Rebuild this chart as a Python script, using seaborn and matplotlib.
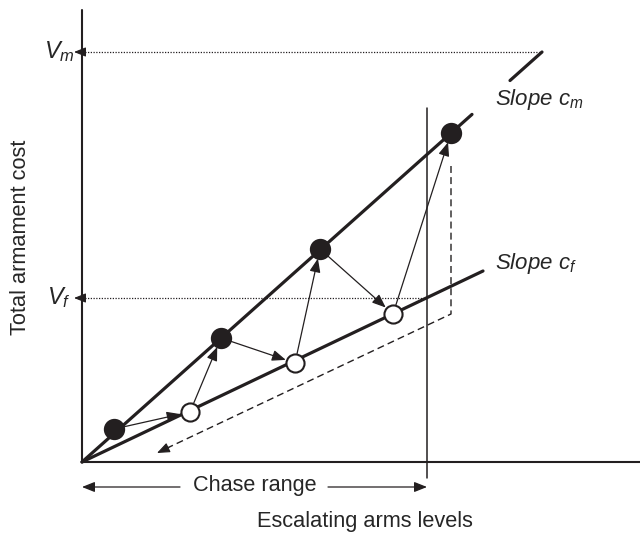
import numpy as np
import matplotlib
matplotlib.use("Agg")
import matplotlib.pyplot as plt
import seaborn as sns

# Schematic values (x = arms level, y = total cost), origin at the axes corner
filled_x = [32, 139, 238, 369]
filled_y = [33, 124, 213, 329]
open_x = [108, 213, 311]
open_y = [50, 99, 148]

slope_m = 410 / 460
slope_f = 191 / 401
x_end_m = 460
x_end_f = 401
gap_m = [390, 428]          # gap in the c_m line
V_m = 410
V_f = 164
chase_limit = 345
dash_x = 369
dash_top = 296
dash_tip = 75
x_max = 558
y_max = 452

sns.set_style("white")
plt.rcParams["font.family"] = ["Liberation Sans", "DejaVu Sans"]
plt.rcParams["mathtext.fontset"] = "custom"
plt.rcParams["mathtext.rm"] = "Liberation Sans"
plt.rcParams["mathtext.it"] = "Liberation Sans:italic"

ink = "#231f20"
head = "-|>,head_length=0.55,head_width=0.22"

fig = plt.figure(figsize=(6.4, 5.33), dpi=100)
ax = fig.add_axes([0, 0, 1, 1])
ax.set_xlim(-82, 558)
ax.set_ylim(-71, 462)
ax.axis("off")

# axes
ax.plot([0, 0], [0, y_max], color=ink, lw=1.5)
ax.plot([0, x_max], [0, 0], color=ink, lw=1.5)

# reference levels
ax.plot([0, x_end_m], [V_m, V_m], color=ink, lw=0.9, ls=(0, (1, 1.2)))
ax.plot([0, chase_limit], [V_f, V_f], color=ink, lw=0.9, ls=(0, (1, 1.2)))
for v in [V_m, V_f]:
    ax.annotate("", xy=(-8, v), xytext=(0, v),
                arrowprops=dict(arrowstyle=head, color=ink, lw=0.8,
                                shrinkA=0, shrinkB=0, mutation_scale=13))
ax.text(-23, V_m, "$V_m$", fontsize=17, ha="center", va="center")
ax.text(-23, V_f, "$V_f$", fontsize=17, ha="center", va="center")

# slope lines
xm = np.array([0, gap_m[0], np.nan, gap_m[1], x_end_m])
ax.plot(xm, slope_m * xm, color=ink, lw=2.3)
sns.lineplot(x=[0, x_end_f], y=[0, slope_f * x_end_f], color=ink, lw=2.3, ax=ax)
ax.text(413, 362, "$Slope\\ c_m$", fontsize=16, ha="left", va="center")
ax.text(413, 199, "$Slope\\ c_f$", fontsize=16, ha="left", va="center")

# chase limit line
ax.plot([chase_limit, chase_limit], [-16, 354], color=ink, lw=1.1)

# dashed return path
ax.plot([dash_x, dash_x, dash_tip + 6], [dash_top, V_f - 16, 12],
        color=ink, lw=1.0, ls=(0, (5, 3)))
ax.annotate("", xy=(dash_tip, 9), xytext=(dash_tip + 12, 9 + 12 * 139 / 294),
            arrowprops=dict(arrowstyle=head, color=ink, lw=0.8,
                            shrinkA=0, shrinkB=0, mutation_scale=14))

# action-reaction arrows
path_x, path_y = [], []
for i in range(len(open_x)):
    path_x += [filled_x[i], open_x[i]]
    path_y += [filled_y[i], open_y[i]]
path_x.append(filled_x[-1])
path_y.append(filled_y[-1])
for i in range(len(path_x) - 1):
    ax.annotate("", xy=(path_x[i + 1], path_y[i + 1]), xytext=(path_x[i], path_y[i]),
                arrowprops=dict(arrowstyle=head, color=ink, lw=0.9,
                                shrinkA=7, shrinkB=7, mutation_scale=15))

sns.scatterplot(x=filled_x, y=filled_y, s=200, color=ink, edgecolor=ink,
                linewidth=1.2, zorder=5, ax=ax)
sns.scatterplot(x=open_x, y=open_y, s=170, color="white", edgecolor=ink,
                linewidth=1.5, zorder=5, ax=ax)

# chase range
ax.annotate("", xy=(0, -25), xytext=(98, -25),
            arrowprops=dict(arrowstyle=head, color=ink, lw=0.9,
                            shrinkA=0, shrinkB=0, mutation_scale=14))
ax.annotate("", xy=(chase_limit, -25), xytext=(246, -25),
            arrowprops=dict(arrowstyle=head, color=ink, lw=0.9,
                            shrinkA=0, shrinkB=0, mutation_scale=14))
ax.text(173, -24, "Chase range", fontsize=15.6, ha="center", va="center")

ax.text(283, -59, "Escalating arms levels", fontsize=15.7, ha="center", va="center")
ax.text(-62, 225, "Total armament cost", fontsize=15.7, ha="center", va="center",
        rotation=90)

fig.savefig("out.png", dpi=100)
